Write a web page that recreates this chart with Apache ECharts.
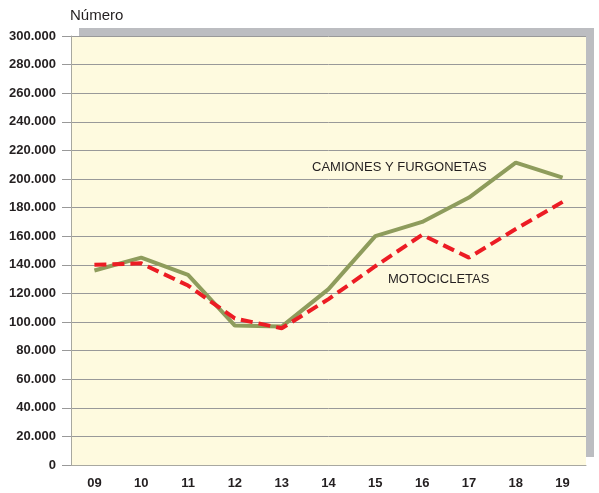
<!DOCTYPE html>
<html>
<head>
    <meta charset="utf-8">
    <title>ECharts</title>
    <script src="https://cdn.jsdelivr.net/npm/echarts@6/dist/echarts.min.js"></script>
    <style type="text/css">
    body { margin: 0; background: #fff; }
    </style>
</head>
<body>
    <div id="main" style="width: 599px;height:493px;"></div>
    <script type="text/javascript">
        // años (eje x)
        var years = ['09', '10', '11', '12', '13', '14', '15', '16', '17', '18', '19'];
        // camiones y furgonetas
        var camiones = [136000, 145000, 133000, 97500, 96800, 123000, 160000, 170000, 187000, 211500, 201000];
        // motocicletas
        var motos = [140000, 141000, 125500, 102500, 95600, 116000, 139000, 161000, 145000, 165000, 184000];

        var myChart = echarts.init(document.getElementById('main'));

        var option = {
            animation: false,
            textStyle: { fontFamily: 'Liberation Sans, Arial, sans-serif' },
            grid: {
                left: 71, right: 13, top: 36, bottom: 28,
                show: true,
                backgroundColor: '#fefadf',
                borderWidth: 0,
                shadowColor: '#bcbdc1',
                shadowBlur: 0,
                shadowOffsetX: 8,
                shadowOffsetY: -8
            },
            graphic: [
                { type: 'text', left: 70, top: 8, style: { text: 'Número', fill: '#231f20', font: '15px Liberation Sans, Arial, sans-serif' } },
                { type: 'text', left: 312, top: 161, style: { text: 'CAMIONES Y FURGONETAS', fill: '#231f20', font: '13px Liberation Sans, Arial, sans-serif' } },
                { type: 'text', left: 388, top: 273, style: { text: 'MOTOCICLETAS', fill: '#231f20', font: '13px Liberation Sans, Arial, sans-serif' } }
            ],
            xAxis: {
                type: 'category',
                data: years,
                boundaryGap: true,
                axisLine: { lineStyle: { color: '#a8a8a0', width: 1 } },
                axisTick: { show: false },
                axisLabel: { color: '#231f20', fontWeight: 'bold', fontSize: 13, margin: 12 }
            },
            yAxis: {
                type: 'value',
                min: 0, max: 300000, interval: 20000,
                axisLine: { show: true, lineStyle: { color: '#a8a8a0', width: 1 } },
                axisTick: { show: true, inside: false, length: 9, lineStyle: { color: '#999' } },
                splitLine: { lineStyle: { color: '#999', width: 1 } },
                axisLabel: {
                    color: '#231f20', fontWeight: 'bold', fontSize: 13, margin: 15,
                    formatter: function (v) {
                        return v === 0 ? '0' : String(v).replace(/\B(?=(\d{3})+(?!\d))/g, '.');
                    }
                }
            },
            series: [{
                name: 'CAMIONES Y FURGONETAS',
                type: 'line',
                data: camiones,
                symbol: 'none',
                lineStyle: { color: '#8e9c5c', width: 4 },
                z: 2
            }, {
                name: 'MOTOCICLETAS',
                type: 'line',
                data: motos,
                symbol: 'none',
                lineStyle: { color: '#ec1c24', width: 4, type: [12, 6] },
                z: 3
            }]
        };
        myChart.setOption(option);
    </script>
</body>
</html>
